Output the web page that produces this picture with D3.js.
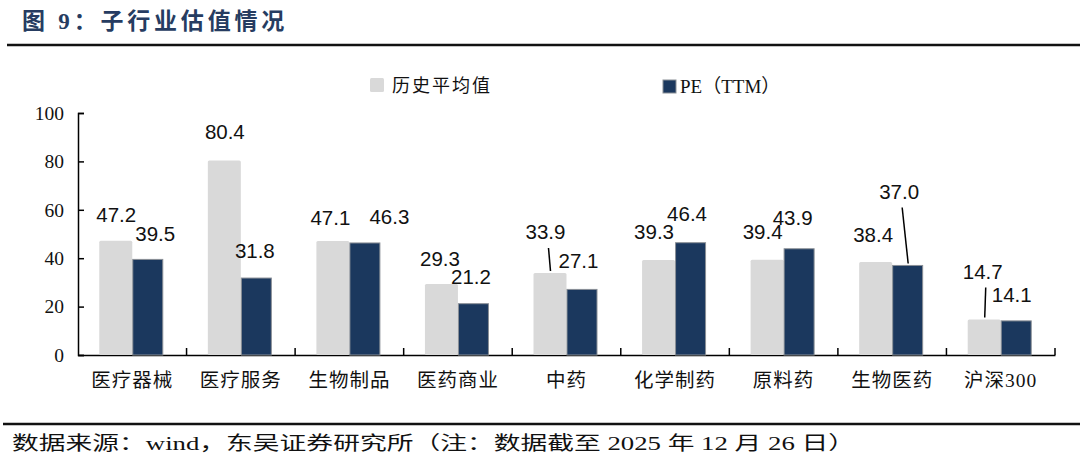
<!DOCTYPE html>
<html><head><meta charset="utf-8">
<script src="https://cdn.jsdelivr.net/npm/d3@7"></script>
<style>body{margin:0;background:#fff;}svg{display:block;}</style>
</head><body>
<svg id="c" width="1080" height="465"></svg>
<script>
const categories = ["医疗器械","医疗服务","生物制品","医药商业","中药","化学制药","原料药","生物医药","沪深300"];
const histAvg = [47.2, 80.4, 47.1, 29.3, 33.9, 39.3, 39.4, 38.4, 14.7];
const peTTM   = [39.5, 31.8, 46.3, 21.2, 27.1, 46.4, 43.9, 37.0, 14.1];
const seriesNames = ["历史平均值", "PE（TTM）"];
const yTicks = [0, 20, 40, 60, 80, 100];
const titleText = "图 9：子行业估值情况";
const sourceText = "数据来源：wind，东吴证券研究所（注：数据截至 2025 年 12 月 26 日）";

// label nudges (px) [dx, dy, leader]
const histLabelAdj = [[0,0,0],[0,-3,0],[-3,2,0],[-2,0,0],[-5,-15,1],[-5,-2,0],[-5,-2,0],[-3,-2,0],[-2,-22,1]];
const peLabelAdj   = [[7,0,0],[-2,-2,0],[24,0,0],[-3,-1,0],[-4,-3,0],[-4,-3,0],[-7,-5,0],[-9,-48,1],[-5,0,0]];

const svg = d3.select("#c");
const serif = "'Liberation Serif','Times New Roman',serif";
const cjk = "'Liberation Serif','Noto Sans CJK SC',serif";
const sans = "'Liberation Sans',Arial,sans-serif";
const GRAY = "#d9d9d9", NAVY = "#1b385e";

// title
svg.append("text").attr("x", 22).attr("y", 29).text(titleText)
  .attr("font-family", cjk).attr("font-weight", "bold").attr("font-size", 23)
  .attr("letter-spacing", 3.8).attr("fill", "#263c61");
svg.append("line").attr("x1", 7).attr("x2", 1080).attr("y1", 45).attr("y2", 45)
  .attr("stroke", "#111").attr("stroke-width", 2.5);

// footer
svg.append("line").attr("x1", 3).attr("x2", 1080).attr("y1", 424).attr("y2", 424)
  .attr("stroke", "#111").attr("stroke-width", 2.5);
svg.append("text").attr("x", 12).attr("y", 450).text(sourceText)
  .attr("font-family", cjk).attr("font-size", 19).attr("fill", "#111")
  .attr("textLength", 843).attr("lengthAdjust", "spacingAndGlyphs");

const m = {l: 78, r: 1055, t: 113, b: 355};
const x = d3.scaleBand().domain(categories).range([m.l, m.r]);
const y = d3.scaleLinear().domain([0, 100]).range([m.b, m.t]);
const barW = 32;

// y axis
const ya = svg.append("g").attr("transform", `translate(${m.l},0)`)
  .call(d3.axisLeft(y).tickValues(yTicks).tickSize(-6).tickPadding(14));
ya.attr("font-family", null);
ya.select(".domain").attr("stroke", "#000").attr("stroke-width", 1.5);
ya.selectAll(".tick line").attr("stroke", "#000").attr("stroke-width", 1.5);
ya.selectAll(".tick text").attr("font-family", serif).attr("font-size", 19.5).attr("fill", "#111");

// x axis
const xa = svg.append("g").attr("transform", `translate(0,${m.b})`)
  .call(d3.axisBottom(x).tickSize(0).tickPadding(18));
xa.attr("font-family", null);
xa.select(".domain").attr("stroke", "#000").attr("stroke-width", 1.5);
xa.selectAll(".tick text").attr("font-family", cjk).attr("font-size", 19.5).attr("letter-spacing", 1).attr("fill", "#111");
// boundary ticks
const bounds = categories.slice(1).map(c => x(c)).concat([m.r]);
svg.append("g").selectAll("line").data(bounds).join("line")
  .attr("x1", d => d).attr("x2", d => d).attr("y1", m.b).attr("y2", m.b - 7)
  .attr("stroke", "#000").attr("stroke-width", 1.5);

const cx = (c) => x(c) + x.bandwidth()/2;

// bars
svg.append("g").selectAll("rect").data(categories).join("rect")
  .attr("x", c => cx(c) - barW - 1).attr("width", barW + 1)
  .attr("y", (c,i) => y(histAvg[i])).attr("height", (c,i) => y(0) - y(histAvg[i]))
  .attr("fill", GRAY).attr("rx", 1.5);
svg.append("g").selectAll("rect").data(categories).join("rect")
  .attr("x", c => cx(c) + 0.5).attr("width", barW - 2)
  .attr("y", (c,i) => y(peTTM[i])).attr("height", (c,i) => y(0) - y(peTTM[i]))
  .attr("fill", NAVY).attr("stroke", "#8a8f96").attr("stroke-width", 1);

// labels
function labels(vals, adj, offset) {
  const g = svg.append("g");
  vals.forEach((v, i) => {
    const bx = cx(categories[i]) + offset;
    const top = y(v);
    const lx = bx + adj[i][0];
    const ly = top - 26 + adj[i][1];
    g.append("text").attr("x", lx).attr("y", ly + 7.5).attr("text-anchor", "middle")
      .attr("font-family", sans).attr("font-size", 20.5).attr("fill", "#111").text(v.toFixed(1));
    if (adj[i][2]) {
      g.append("line").attr("x1", lx + 3).attr("y1", ly + 16).attr("x2", bx).attr("y2", top - 2)
        .attr("stroke", "#000").attr("stroke-width", 1.5);
    }
  });
}
labels(histAvg, histLabelAdj, -16);
labels(peTTM, peLabelAdj, 16);

// legend
const lg = svg.append("g");
lg.append("rect").attr("x", 370).attr("y", 78).attr("width", 14).attr("height", 14).attr("fill", GRAY).attr("rx", 1.5);
lg.append("text").attr("x", 392).attr("y", 92).text(seriesNames[0])
  .attr("font-family", cjk).attr("font-size", 18).attr("letter-spacing", 2).attr("fill", "#111");
lg.append("rect").attr("x", 663).attr("y", 80).attr("width", 13).attr("height", 13).attr("fill", NAVY).attr("stroke", "#8a8f96");
lg.append("text").attr("x", 680).attr("y", 93).text(seriesNames[1])
  .attr("font-family", cjk).attr("font-size", 19).attr("fill", "#111");
</script>
</body></html>
